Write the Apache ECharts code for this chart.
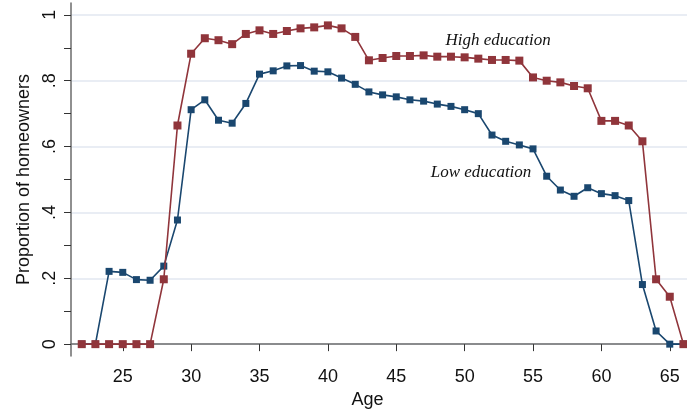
<!DOCTYPE html>
<html>
<head>
<meta charset="utf-8">
<script src="https://cdn.jsdelivr.net/npm/echarts@6/dist/echarts.min.js"></script>
<style>
  html, body { margin: 0; padding: 0; background: #ffffff; }
  #chart { width: 687px; height: 412px; }
</style>
</head>
<body>
<div id="chart"></div>
<script>
// Homeownership rate by age, split by education level
const ages = [22, 23, 24, 25, 26, 27, 28, 29, 30, 31, 32, 33, 34, 35, 36, 37, 38, 39, 40, 41, 42, 43, 44,
  45, 46, 47, 48, 49, 50, 51, 52, 53, 54, 55, 56, 57, 58, 59, 60, 61, 62, 63, 64, 65, 66];

const lowEducation = [0, 0, 0.221, 0.218, 0.196, 0.194, 0.237, 0.377, 0.712, 0.742, 0.680, 0.671, 0.731,
  0.820, 0.830, 0.845, 0.846, 0.829, 0.827, 0.808, 0.789, 0.766, 0.757, 0.751, 0.742, 0.738, 0.729,
  0.722, 0.712, 0.700, 0.635, 0.616, 0.605, 0.593, 0.510, 0.468, 0.449, 0.475, 0.457, 0.451, 0.436,
  0.181, 0.040, 0, 0];

const highEducation = [0, 0, 0, 0, 0, 0, 0.197, 0.664, 0.882, 0.929, 0.923, 0.911, 0.942, 0.953, 0.942,
  0.951, 0.959, 0.962, 0.968, 0.959, 0.933, 0.862, 0.869, 0.875, 0.875, 0.877, 0.873, 0.873, 0.871,
  0.867, 0.863, 0.863, 0.861, 0.810, 0.800, 0.795, 0.784, 0.777, 0.678, 0.678, 0.664, 0.616, 0.197,
  0.144, 0];

const xTicks = [25, 30, 35, 40, 45, 50, 55, 60, 65];
const yMajorTicks = [0, 0.2, 0.4, 0.6, 0.8, 1];
const yMinorTicks = [0.1, 0.3, 0.5, 0.7, 0.9];

// Series name labels placed in data coordinates
const highLabel = { text: 'High education', age: 52.45, value: 0.923 };
const lowLabel = { text: 'Low education', age: 51.2, value: 0.521 };

const navy = '#1a476f';
const maroon = '#90353b';
const axisGray = '#6b6b6b';
const gridColor = '#e2e7f0';

// Stata-style tick labels: 0, .2, .4, ..., 1
function fmtY(v) {
  const r = Math.round(Number(v) * 10) / 10;
  if (r === 0) return '0';
  if (r === 1) return '1';
  return r.toFixed(1).replace(/^0/, '');
}

function pairs(xs, ys) {
  return xs.map((x, i) => [x, ys[i]]);
}

const labelStyle = {
  fontFamily: 'Liberation Serif',
  fontStyle: 'italic',
  fontSize: 17,
  color: '#111111'
};

const chart = echarts.init(document.getElementById('chart'), null, { renderer: 'canvas' });

chart.setOption({
  animation: false,
  backgroundColor: '#ffffff',
  grid: {
    left: 71, right: 0, top: 3, bottom: 56,
    containLabel: false,
    outerBoundsMode: 'none'
  },
  xAxis: {
    type: 'value',
    min: 21.215,
    max: 66.26,
    name: 'Age',
    nameLocation: 'middle',
    nameGap: 34,
    nameTextStyle: {
      fontFamily: 'Liberation Sans', fontSize: 18, color: '#111111',
      padding: [0, 23, 0, 0]
    },
    axisLine: { show: true, lineStyle: { color: axisGray, width: 1.5 } },
    axisTick: {
      show: true, length: 7, inside: false,
      customValues: xTicks,
      lineStyle: { color: '#333333', width: 1 }
    },
    axisLabel: {
      customValues: xTicks,
      fontFamily: 'Liberation Sans', fontSize: 18, color: '#111111',
      margin: 12
    },
    splitLine: { show: false }
  },
  yAxis: [
    {
      type: 'value',
      min: -0.036,
      max: 1.036,
      name: 'Proportion of homeowners',
      nameLocation: 'middle',
      nameGap: 38,
      nameTextStyle: { fontFamily: 'Liberation Sans', fontSize: 18, color: '#111111' },
      axisLine: { show: true, lineStyle: { color: axisGray, width: 1.5 } },
      axisTick: {
        show: true, length: 7, inside: false,
        customValues: yMajorTicks,
        lineStyle: { color: '#333333', width: 1 }
      },
      axisLabel: {
        customValues: yMajorTicks,
        rotate: 90,
        formatter: fmtY,
        fontFamily: 'Liberation Sans', fontSize: 18, color: '#111111',
        margin: 12
      },
      splitLine: { show: true, lineStyle: { color: gridColor, width: 1.5 } }
    },
    {
      // minor ticks between labelled values
      type: 'value',
      position: 'left',
      min: -0.036,
      max: 1.036,
      axisLine: { show: false },
      axisTick: {
        show: true, length: 7, inside: false,
        customValues: yMinorTicks,
        lineStyle: { color: '#333333', width: 1 }
      },
      axisLabel: { show: false },
      splitLine: { show: false }
    }
  ],
  series: [
    {
      name: 'Low education',
      type: 'line',
      data: pairs(ages, lowEducation),
      symbol: 'rect',
      symbolSize: 7,
      lineStyle: { color: navy, width: 1.6 },
      itemStyle: { color: navy },
      z: 3,
      markPoint: {
        symbol: 'circle',
        symbolSize: 0,
        silent: true,
        data: [{
          coord: [lowLabel.age, lowLabel.value],
          label: { show: true, position: 'inside', formatter: lowLabel.text, ...labelStyle }
        }]
      }
    },
    {
      name: 'High education',
      type: 'line',
      data: pairs(ages, highEducation),
      symbol: 'rect',
      symbolSize: 8,
      lineStyle: { color: maroon, width: 1.6 },
      itemStyle: { color: maroon },
      z: 4,
      markPoint: {
        symbol: 'circle',
        symbolSize: 0,
        silent: true,
        data: [{
          coord: [highLabel.age, highLabel.value],
          label: { show: true, position: 'inside', formatter: highLabel.text, ...labelStyle }
        }]
      }
    }
  ]
});
</script>
</body>
</html>
